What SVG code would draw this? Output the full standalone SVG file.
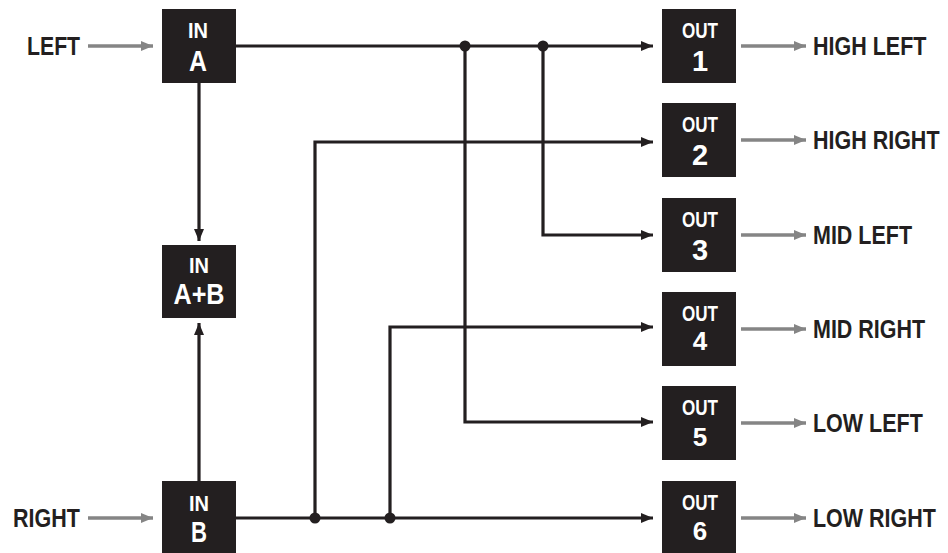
<svg xmlns="http://www.w3.org/2000/svg" width="948" height="553" viewBox="0 0 948 553">
<style>
.box{fill:#231f20}
.bt{fill:#fff;font-family:"Liberation Sans",Arial,sans-serif;font-weight:bold;text-anchor:middle}
.lbl{fill:#231f20;font-family:"Liberation Sans",Arial,sans-serif;font-weight:bold;font-size:25px}
.k{stroke:#231f20;stroke-width:3.2;fill:none}
.g{stroke:#858585;stroke-width:3.5;fill:none}
.dot{fill:#231f20}
</style>
<defs>
<marker id="ak" markerUnits="userSpaceOnUse" markerWidth="12" markerHeight="12" viewBox="0 0 12 12" refX="12" refY="6" orient="auto"><path d="M0,1 L12,6 L0,11 Z" fill="#231f20"/></marker>
<marker id="ag" markerUnits="userSpaceOnUse" markerWidth="12" markerHeight="12" viewBox="0 0 12 12" refX="12" refY="6" orient="auto"><path d="M0,1 L12,6 L0,11 Z" fill="#858585"/></marker>
</defs>
<rect width="948" height="553" fill="#fff"/>
<g id="connectors">
<path class="g" d="M88,46 H153" marker-end="url(#ag)"/>
<path class="g" d="M88,518 H153" marker-end="url(#ag)"/>
<path class="k" d="M236,46 H653" marker-end="url(#ak)"/>
<path class="k" d="M199,83 V241" marker-end="url(#ak)"/>
<path class="k" d="M199,481 V323" marker-end="url(#ak)"/>
<path class="k" d="M236,518 H653" marker-end="url(#ak)"/>
<path class="k" d="M315,518 V142 H653" marker-end="url(#ak)"/>
<path class="k" d="M390,518 V327 H653" marker-end="url(#ak)"/>
<path class="k" d="M465,46 V422 H653" marker-end="url(#ak)"/>
<path class="k" d="M543,46 V235 H653" marker-end="url(#ak)"/>
<circle class="dot" cx="465" cy="46" r="5.5"/>
<circle class="dot" cx="543" cy="46" r="5.5"/>
<circle class="dot" cx="315" cy="518" r="5.5"/>
<circle class="dot" cx="390" cy="518" r="5.5"/>
<path class="g" d="M741,46 H806" marker-end="url(#ag)"/>
<path class="g" d="M741,140 H806" marker-end="url(#ag)"/>
<path class="g" d="M741,235 H806" marker-end="url(#ag)"/>
<path class="g" d="M741,329 H806" marker-end="url(#ag)"/>
<path class="g" d="M741,423 H806" marker-end="url(#ag)"/>
<path class="g" d="M741,518 H806" marker-end="url(#ag)"/>
</g>
<g id="label-left"><text class="lbl" transform="translate(27,55) scale(0.85,1)">LEFT</text></g>
<g id="label-right"><text class="lbl" transform="translate(13,527) scale(0.86,1)">RIGHT</text></g>
<g id="in-a"><rect class="box" x="162" y="9" width="74" height="74"/>
<text class="bt" x="198" y="38" font-size="22" textLength="20" lengthAdjust="spacingAndGlyphs">IN</text>
<text class="bt" x="198" y="71" font-size="29" textLength="18" lengthAdjust="spacingAndGlyphs">A</text></g>
<g id="in-ab"><rect class="box" x="162" y="245" width="74" height="73"/>
<text class="bt" x="199" y="273" font-size="22" textLength="20" lengthAdjust="spacingAndGlyphs">IN</text>
<text class="bt" x="199" y="304" font-size="29" textLength="51" lengthAdjust="spacingAndGlyphs">A+B</text></g>
<g id="in-b"><rect class="box" x="162" y="481" width="74" height="72"/>
<text class="bt" x="199" y="511" font-size="22" textLength="20" lengthAdjust="spacingAndGlyphs">IN</text>
<text class="bt" x="199" y="542" font-size="29" textLength="16" lengthAdjust="spacingAndGlyphs">B</text></g>
<g id="out-1"><rect class="box" x="662" y="9" width="74" height="74"/>
<text class="bt" x="700" y="38" font-size="22" textLength="36" lengthAdjust="spacingAndGlyphs">OUT</text>
<text class="bt" x="700" y="71" font-size="29">1</text></g>
<g id="out-2"><rect class="box" x="662" y="103" width="74" height="74"/>
<text class="bt" x="700" y="132" font-size="22" textLength="36" lengthAdjust="spacingAndGlyphs">OUT</text>
<text class="bt" x="700" y="165" font-size="29">2</text></g>
<g id="out-3"><rect class="box" x="662" y="198" width="74" height="74"/>
<text class="bt" x="700" y="227" font-size="22" textLength="36" lengthAdjust="spacingAndGlyphs">OUT</text>
<text class="bt" x="700" y="260" font-size="29">3</text></g>
<g id="out-4"><rect class="box" x="662" y="292" width="74" height="74"/>
<text class="bt" x="700" y="321" font-size="22" textLength="36" lengthAdjust="spacingAndGlyphs">OUT</text>
<text class="bt" x="700" y="350" font-size="26">4</text></g>
<g id="out-5"><rect class="box" x="662" y="386" width="74" height="74"/>
<text class="bt" x="700" y="415" font-size="22" textLength="36" lengthAdjust="spacingAndGlyphs">OUT</text>
<text class="bt" x="700" y="446" font-size="26">5</text></g>
<g id="out-6"><rect class="box" x="662" y="481" width="74" height="72"/>
<text class="bt" x="700" y="510" font-size="22" textLength="36" lengthAdjust="spacingAndGlyphs">OUT</text>
<text class="bt" x="700" y="540" font-size="26">6</text></g>
<g id="label-high-left"><text class="lbl" transform="translate(813,55) scale(0.86,1)">HIGH LEFT</text></g>
<g id="label-high-right"><text class="lbl" transform="translate(813,149) scale(0.86,1)">HIGH RIGHT</text></g>
<g id="label-mid-left"><text class="lbl" transform="translate(813,244) scale(0.86,1)">MID LEFT</text></g>
<g id="label-mid-right"><text class="lbl" transform="translate(813,338) scale(0.86,1)">MID RIGHT</text></g>
<g id="label-low-left"><text class="lbl" transform="translate(813,432) scale(0.86,1)">LOW LEFT</text></g>
<g id="label-low-right"><text class="lbl" transform="translate(813,527) scale(0.86,1)">LOW RIGHT</text></g>
</svg>
